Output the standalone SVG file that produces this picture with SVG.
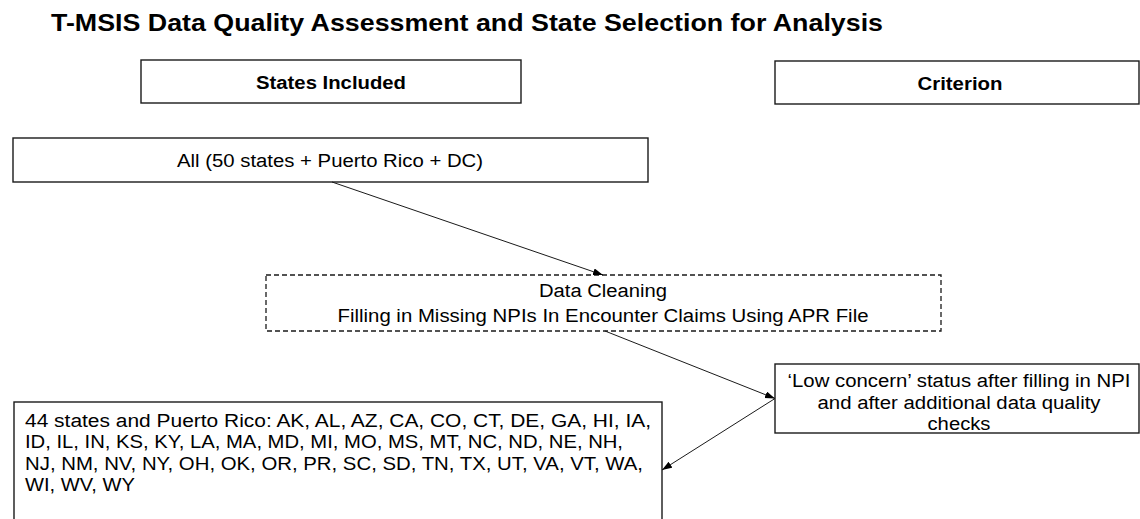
<svg xmlns="http://www.w3.org/2000/svg" width="1140" height="519" viewBox="0 0 1140 519">
<style>
.box{fill:#fff;stroke:#1a1a1a;stroke-width:1.4}
.dash{fill:#fff;stroke:#1a1a1a;stroke-width:1.3;stroke-dasharray:5 3}
.t{font-family:"Liberation Sans",Arial,sans-serif;font-size:18px;fill:#000}
.b{font-weight:bold}
.c{text-anchor:middle}
.conn{stroke:#1a1a1a;stroke-width:1;fill:none;marker-end:url(#ah)}
</style>
<defs>
<marker id="ah" markerUnits="userSpaceOnUse" markerWidth="11" markerHeight="8" refX="10" refY="3.5" orient="auto">
<path d="M0,0 L10,3.5 L0,7 z" fill="#000"/>
</marker>
</defs>
<rect width="1140" height="519" fill="#fff"/>
<text id="title" class="t b" x="51" y="31" style="font-size:24px" textLength="832" lengthAdjust="spacingAndGlyphs">T-MSIS Data Quality Assessment and State Selection for Analysis</text>
<g id="hdr-states">
<rect class="box" x="141" y="60" width="380" height="43"/>
<text class="t b c" x="331" y="89" textLength="150" lengthAdjust="spacingAndGlyphs">States Included</text>
</g>
<g id="hdr-criterion">
<rect class="box" x="775" y="61" width="364" height="43"/>
<text class="t b c" x="960" y="90" textLength="85" lengthAdjust="spacingAndGlyphs">Criterion</text>
</g>
<g id="all">
<rect class="box" x="13" y="138" width="635" height="44"/>
<text class="t c" x="330" y="167" textLength="306" lengthAdjust="spacingAndGlyphs">All (50 states + Puerto Rico + DC)</text>
</g>
<g id="cleaning">
<rect class="dash" x="266" y="275" width="675" height="56"/>
<text class="t c" x="603" y="297" textLength="128" lengthAdjust="spacingAndGlyphs">Data Cleaning</text>
<text class="t c" x="603" y="322" textLength="531" lengthAdjust="spacingAndGlyphs">Filling in Missing NPIs In Encounter Claims Using APR File</text>
</g>
<g id="lowconcern">
<rect class="box" x="775" y="364" width="364" height="69"/>
<text class="t c" x="959" y="387" textLength="343" lengthAdjust="spacingAndGlyphs">‘Low concern’ status after filling in NPI</text>
<text class="t c" x="959" y="409" textLength="283" lengthAdjust="spacingAndGlyphs">and after additional data quality</text>
<text class="t c" x="959" y="430" textLength="63" lengthAdjust="spacingAndGlyphs">checks</text>
</g>
<g id="included">
<rect class="box" x="14" y="402" width="648" height="136"/>
<text class="t" x="25" y="427" textLength="626" lengthAdjust="spacingAndGlyphs">44 states and Puerto Rico: AK, AL, AZ, CA, CO, CT, DE, GA, HI, IA,</text>
<text class="t" x="25" y="448" textLength="598" lengthAdjust="spacingAndGlyphs">ID, IL, IN, KS, KY, LA, MA, MD, MI, MO, MS, MT, NC, ND, NE, NH,</text>
<text class="t" x="25" y="470" textLength="618" lengthAdjust="spacingAndGlyphs">NJ, NM, NV, NY, OH, OK, OR, PR, SC, SD, TN, TX, UT, VA, VT, WA,</text>
<text class="t" x="25" y="491" textLength="110" lengthAdjust="spacingAndGlyphs">WI, WV, WY</text>
</g>
<g id="connectors">
<line class="conn" x1="332" y1="182" x2="603" y2="275"/>
<line class="conn" x1="605" y1="331" x2="775" y2="398.5"/>
<line class="conn" x1="775" y1="398.5" x2="662" y2="470"/>
</g>
</svg>
